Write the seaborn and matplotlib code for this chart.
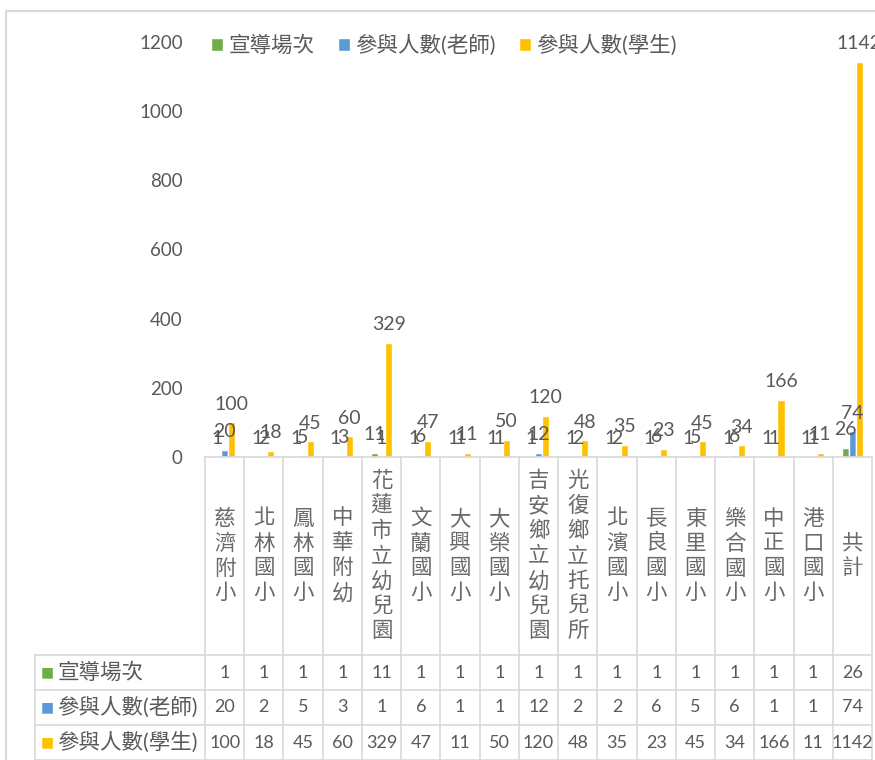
"""
Excel-style clustered bar chart with data table (seaborn)
"""

import matplotlib
matplotlib.use("Agg")
import matplotlib.pyplot as plt
from matplotlib.patches import Rectangle
import pandas as pd
import seaborn as sns

# ---- data ----
schools = ["慈濟附小", "北林國小", "鳳林國小", "中華附幼", "花蓮市立幼兒園", "文蘭國小",
           "大興國小", "大榮國小", "吉安鄉立幼兒園", "光復鄉立托兒所", "北濱國小",
           "長良國小", "東里國小", "樂合國小", "中正國小", "港口國小", "共計"]
series_names = ["宣導場次", "參與人數(老師)", "參與人數(學生)"]
sessions = [1, 1, 1, 1, 11, 1, 1, 1, 1, 1, 1, 1, 1, 1, 1, 1, 26]
teachers = [20, 2, 5, 3, 1, 6, 1, 1, 12, 2, 2, 6, 5, 6, 1, 1, 74]
students = [100, 18, 45, 60, 329, 47, 11, 50, 120, 48, 35, 23, 45, 34, 166, 11, 1142]
colors = ["#70AD47", "#5B9BD5", "#FFC000"]
y_ticks = [0, 200, 400, 600, 800, 1000, 1200]

GRAY_TXT = "#595959"
GRID = "#D9D9D9"

sns.set_theme(style="white")
plt.rcParams["font.family"] = ["Lato", "Noto Sans CJK TC", "DejaVu Sans"]

df = pd.DataFrame({
    "school": schools * 3,
    "series": [s for s in series_names for _ in schools],
    "value": sessions + teachers + students,
})

W, H = 875, 760
fig = plt.figure(figsize=(W / 100, H / 100), dpi=100)

# pixel layout of the plot area
left_px, right_px, top_px, zero_px = 205, 872, 42, 457
ax = fig.add_axes([left_px / W, (H - zero_px) / H,
                   (right_px - left_px) / W, (zero_px - top_px) / H])

sns.barplot(data=df, x="school", y="value", hue="series", order=schools,
            hue_order=series_names, palette=colors, width=0.54, gap=0,
            saturation=1, ax=ax)

for cont in ax.containers:
    ax.bar_label(cont, fmt="%d", padding=7, fontsize=14, color=GRAY_TXT, clip_on=False)

ax.set_ylim(0, 1200)
ax.set_xlim(-0.5, len(schools) - 0.5)
ax.set_yticks(y_ticks)
ax.tick_params(axis="y", length=0, pad=16, labelsize=13.5, labelcolor=GRAY_TXT)
ax.tick_params(axis="x", length=0, labelbottom=False)
ax.set_xlabel("")
ax.set_ylabel("")
for sp in ax.spines.values():
    sp.set_visible(False)

handles, labels = ax.get_legend_handles_labels()
ax.get_legend().remove()
fig.legend(handles, labels, loc="center", bbox_to_anchor=(444 / W, 1 - 45 / H),
           ncol=3, frameon=False, handlelength=0.55, handleheight=0.55,
           handletextpad=0.25, columnspacing=1.1, fontsize=15.5, labelcolor=GRAY_TXT)

# ---- data table ----
HEAD_H, ROW_H = 198, 35
tab_h = HEAD_H + ROW_H * 3
tax = fig.add_axes([left_px / W, 0, (right_px - left_px) / W, tab_h / H])
tax.set_xlim(ax.get_xlim())
tax.set_ylim(0, tab_h)
tax.axis("off")
col_px = (right_px - left_px) / len(schools)
x_left = -0.5 - (left_px - 35) / col_px
n = len(schools)

# grid
tax.plot([-0.5, n - 0.5], [tab_h, tab_h], color=GRID, lw=1.2, clip_on=False)
for k in range(4):
    y = ROW_H * (3 - k)
    tax.plot([x_left, n - 0.5], [y, y], color=GRID, lw=1.2, clip_on=False)
for i in range(n + 1):
    tax.plot([i - 0.5, i - 0.5], [0, tab_h], color=GRID, lw=1.2, clip_on=False)
tax.plot([x_left, x_left], [0, ROW_H * 3], color=GRID, lw=1.2, clip_on=False)

# vertical category labels
for i, name in enumerate(schools):
    tax.text(i, ROW_H * 3 + HEAD_H / 2, "\n".join(name), ha="center", va="center",
             fontsize=15.5, linespacing=1.3, color="#6A6A6A", fontweight="light")

# rows
for r, (name, vals, c) in enumerate(zip(series_names, [sessions, teachers, students], colors)):
    yc = ROW_H * (2.5 - r)
    tax.annotate("■", (x_left, yc), xytext=(4.5, 0), textcoords="offset points",
                 ha="left", va="center", fontsize=10, color=c, family="DejaVu Sans",
                 annotation_clip=False)
    tax.annotate(name, (x_left, yc), xytext=(16, 0), textcoords="offset points",
                 ha="left", va="center", fontsize=15.5, color=GRAY_TXT,
                 annotation_clip=False)
    for i, v in enumerate(vals):
        tax.text(i, yc, str(v), ha="center", va="center", fontsize=13, color=GRAY_TXT)

# outer chart frame
fig.add_artist(Rectangle((6 / W, -0.01), 1.0, 1 - 11 / H + 0.01, transform=fig.transFigure,
                         fill=False, edgecolor=GRID, lw=1.5))

fig.savefig("out.png", dpi=100)
